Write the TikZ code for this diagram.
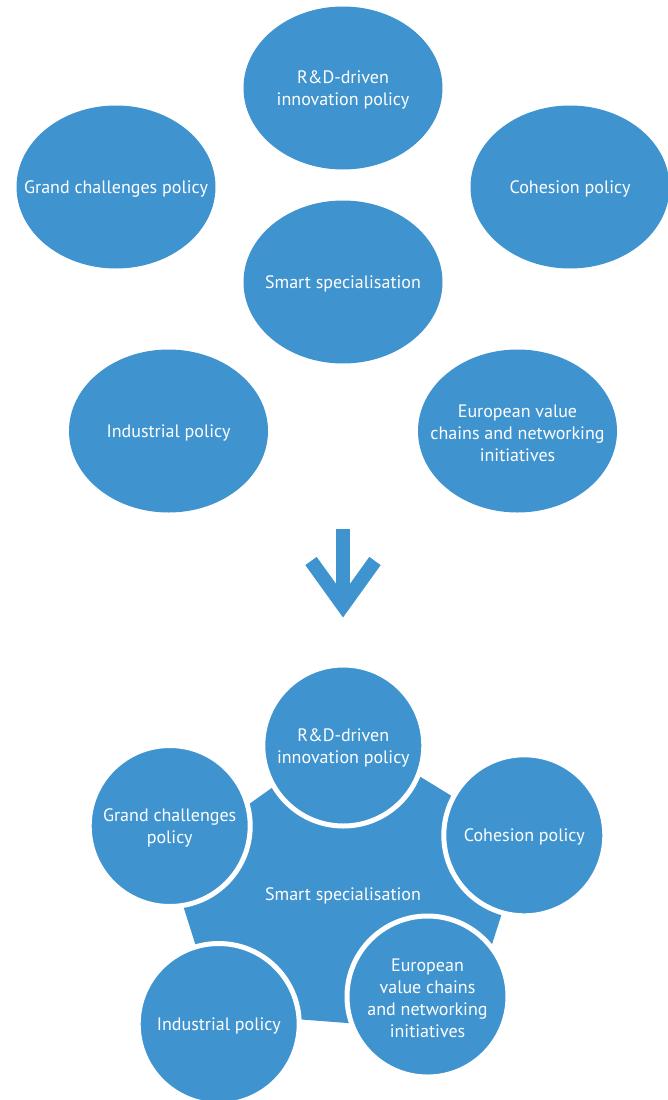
\documentclass[tikz,border=0pt]{standalone}
\usepackage{fontspec}
\setmainfont{PT Sans}
\usetikzlibrary{shapes.geometric}
\definecolor{eublue}{HTML}{3F94D0}
\begin{document}
\begin{tikzpicture}[x=1pt,y=-1pt,
  lbl/.style={text=white, align=center, font=\fontsize{18}{22}\selectfont, inner sep=0pt, yshift=-2pt},
  ell/.style={ellipse, fill=eublue, minimum width=199pt, minimum height=163pt, inner sep=0pt},
  circ/.style={circle, fill=eublue, draw=white, line width=5pt, minimum size=161pt, inner sep=0pt},
  arrowpart/.style={draw=eublue, line width=14pt, miter limit=10}
  ]
\useasboundingbox (0,0) rectangle (668,1100);
% ---- top: separate policies ----
\node[ell] (t-rd)  at (343,88)    {};
\node[ell] (t-gc)  at (116,187)   {};
\node[ell] (t-co)  at (570,187)   {};
\node[ell] (t-ss)  at (343,282)   {};
\node[ell] (t-in)  at (168.5,431) {};
\node[ell] (t-eu)  at (517.5,431) {};
\node[lbl] (t-rd-l) at (t-rd) {R\&D-driven\\innovation policy};
\node[lbl] (t-gc-l) at (t-gc) {Grand challenges policy};
\node[lbl] (t-co-l) at (t-co) {Cohesion policy};
\node[lbl] (t-ss-l) at (t-ss) {Smart specialisation};
\node[lbl] (t-in-l) at (t-in) {Industrial policy};
\node[lbl] (t-eu-l) at (t-eu) {European value\\chains and networking\\initiatives};
% ---- arrow ----
\coordinate (a-top) at (343,529);
\coordinate (a-mid) at (343,600);
\coordinate (a-l) at (311,561);
\coordinate (a-tip) at (343,605.5);
\coordinate (a-r) at (375,561);
\draw[arrowpart] (a-top) -- (a-mid);
\draw[arrowpart] (a-l) -- (a-tip) -- (a-r);
% ---- bottom: integrated ----
\fill[eublue] (349,733) -- (525,841) -- (464,1032) -- (217,1013) -- (169,861) -- cycle;
\node[lbl] (b-ss) at (343,894) {Smart specialisation};
\node[circ] (b-rd) at (343.3,745.5) {};
\node[circ] (b-co) at (524.3,835.3) {};
\node[circ] (b-gc) at (169.7,826)   {};
\node[circ] (b-eu) at (427.5,996.5) {};
\node[circ] (b-in) at (218.7,1024)  {};
\node[lbl] (b-rd-l) at (b-rd) {R\&D-driven\\innovation policy};
\node[lbl] (b-co-l) at (b-co) {Cohesion policy};
\node[lbl] (b-gc-l) at (b-gc) {Grand challenges\\policy};
\node[lbl] (b-eu-l) at (b-eu) {European\\value chains\\and networking\\initiatives};
\node[lbl] (b-in-l) at (b-in) {Industrial policy};
\end{tikzpicture}
\end{document}
